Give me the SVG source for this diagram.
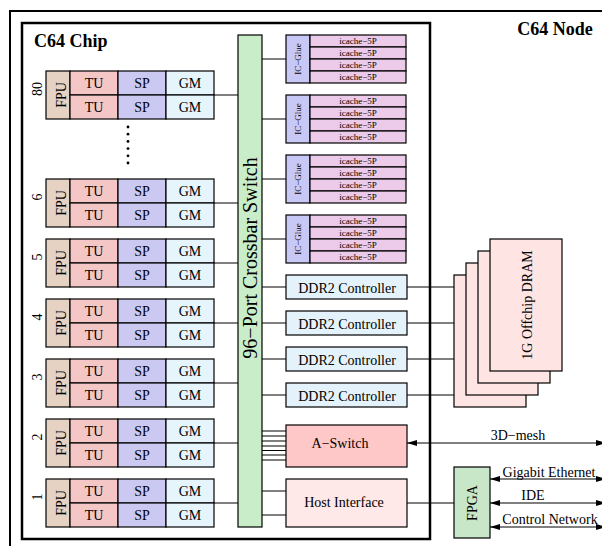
<svg xmlns="http://www.w3.org/2000/svg" width="602" height="546" viewBox="0 0 602 546" font-family="'Liberation Serif','Times New Roman',serif">
<defs>
<style>
text{font-family:"Liberation Serif","Times New Roman",serif;fill:#000}
.b{stroke:#000;stroke-width:1.2}
.fpu{fill:#e6d2c3}.tu{fill:#f4c6c6}.sp{fill:#cbc8f2}.gm{fill:#e6f4fc}
.xb{fill:#c9ecc9}.icg{fill:#c8c8f6}.ic{fill:#ebcbe9}.ddr{fill:#e4f3fb}
.asw{fill:#ffc8c8}.host{fill:#ffe8e8}.dram{fill:#ffe4e4}.fpga{fill:#c8e6c8}
.t14{font-size:14px}.t9{font-size:9px}.t13{font-size:14px}
.c{text-anchor:middle}
.ln{stroke:#000;stroke-width:1.2;fill:none}
</style>
<marker id="ah" viewBox="0 0 10 6" refX="10" refY="3" markerWidth="10" markerHeight="6" markerUnits="userSpaceOnUse" orient="auto-start-reverse">
<path d="M0,0 L10,3 L0,6 z" fill="#000"/>
</marker>
<g id="row" font-family="'Liberation Serif','Times New Roman',serif" font-size="14">
<rect class="b fpu" x="46" y="0" width="24" height="48"/>
<rect class="b tu" x="70" y="0" width="48" height="24"/>
<rect class="b tu" x="70" y="24" width="48" height="24"/>
<rect class="b sp" x="118" y="0" width="48" height="24"/>
<rect class="b sp" x="118" y="24" width="48" height="24"/>
<rect class="b gm" x="166" y="0" width="48" height="24"/>
<rect class="b gm" x="166" y="24" width="48" height="24"/>
<text class="t14" transform="translate(66,24) rotate(-90)" text-anchor="middle">FPU</text>
<text class="t14 c" x="94" y="17" text-anchor="middle">TU</text><text class="t14 c" x="94" y="41" text-anchor="middle">TU</text>
<text class="t14 c" x="142" y="17" text-anchor="middle">SP</text><text class="t14 c" x="142" y="41" text-anchor="middle">SP</text>
<text class="t14 c" x="190" y="17" text-anchor="middle">GM</text><text class="t14 c" x="190" y="41" text-anchor="middle">GM</text>
</g>
<g id="icblk" font-family="'Liberation Serif','Times New Roman',serif" font-size="9">
<rect class="b icg" x="286" y="0" width="24" height="48"/>
<rect class="b ic" x="310" y="0" width="96" height="12"/>
<rect class="b ic" x="310" y="12" width="96" height="12"/>
<rect class="b ic" x="310" y="24" width="96" height="12"/>
<rect class="b ic" x="310" y="36" width="96" height="12"/>
<text class="t9" transform="translate(301,24) rotate(-90)" text-anchor="middle">IC−Glue</text>
<text class="t9 c" x="358" y="9" text-anchor="middle">icache−5P</text>
<text class="t9 c" x="358" y="21" text-anchor="middle">icache−5P</text>
<text class="t9 c" x="358" y="33" text-anchor="middle">icache−5P</text>
<text class="t9 c" x="358" y="45" text-anchor="middle">icache−5P</text>
</g>
</defs>
<rect width="602" height="546" fill="#fff"/>
<g id="node-frame">
<path d="M10,546 V11 H604" fill="none" stroke="#000" stroke-width="2"/>
<text x="555" y="35" font-size="18" font-weight="bold" text-anchor="middle">C64 Node</text>
</g>
<g id="chip">
<rect x="22" y="23" width="408" height="516" fill="none" stroke="#000" stroke-width="2.5"/>
<text x="34" y="47" font-size="18" font-weight="bold">C64 Chip</text>
</g>
<g id="connectors">
<path class="ln" d="M214,95 H238 M214,203 H238 M214,263 H238 M214,323 H238 M214,383 H238 M214,443 H238 M214,503 H238"/>
<path class="ln" d="M262,59 H286 M262,119 H286 M262,179 H286 M262,239 H286"/>
<path class="ln" d="M262,287 H286 M262,323 H286 M262,359 H286 M262,395 H286"/>
<path class="ln" d="M407,287 H454 M407,323 H454 M407,359 H454 M407,395 H454"/>
<path class="ln" d="M262,431 H286 M262,436 H286 M262,441 H286 M262,446 H286 M262,450.5 H286 M262,455 H286 M262,460 H286"/>
<path class="ln" d="M262,491 H286 M262,515 H286"/>
<path class="ln" d="M407,503 H454"/>
<line class="ln" x1="407" y1="443" x2="606" y2="443" marker-start="url(#ah)" marker-end="url(#ah)"/>
<line class="ln" x1="490" y1="479" x2="606" y2="479" marker-start="url(#ah)" marker-end="url(#ah)"/>
<line class="ln" x1="490" y1="503" x2="606" y2="503" marker-start="url(#ah)" marker-end="url(#ah)"/>
<line class="ln" x1="490" y1="527" x2="606" y2="527" marker-start="url(#ah)" marker-end="url(#ah)"/>
<text class="t13 c" x="518" y="440">3D−mesh</text>
<text class="t13 c" x="549" y="477">Gigabit Ethernet</text>
<text class="t13 c" x="533" y="500">IDE</text>
<text class="t13 c" x="550" y="524">Control Network</text>
</g>
<g id="row80"><use href="#row" transform="translate(0,71)"/><text class="t14" transform="translate(42,89) rotate(-90)" text-anchor="middle">80</text></g>
<g id="dots" fill="#000">
<circle cx="128" cy="127" r="1.4"/><circle cx="128" cy="134.2" r="1.4"/><circle cx="128" cy="141.4" r="1.4"/><circle cx="128" cy="148.6" r="1.4"/><circle cx="128" cy="155.8" r="1.4"/><circle cx="128" cy="163" r="1.4"/>
</g>
<g id="row6"><use href="#row" transform="translate(0,179)"/><text class="t14" transform="translate(42,197) rotate(-90)" text-anchor="middle">6</text></g>
<g id="row5"><use href="#row" transform="translate(0,239)"/><text class="t14" transform="translate(42,257) rotate(-90)" text-anchor="middle">5</text></g>
<g id="row4"><use href="#row" transform="translate(0,299)"/><text class="t14" transform="translate(42,317) rotate(-90)" text-anchor="middle">4</text></g>
<g id="row3"><use href="#row" transform="translate(0,359)"/><text class="t14" transform="translate(42,377) rotate(-90)" text-anchor="middle">3</text></g>
<g id="row2"><use href="#row" transform="translate(0,419)"/><text class="t14" transform="translate(42,437) rotate(-90)" text-anchor="middle">2</text></g>
<g id="row1"><use href="#row" transform="translate(0,479)"/><text class="t14" transform="translate(42,497) rotate(-90)" text-anchor="middle">1</text></g>
<g id="crossbar">
<rect class="b xb" x="238" y="35" width="24" height="492"/>
<text font-size="20" transform="translate(257,258) rotate(-90)" text-anchor="middle">96−Port Crossbar Switch</text>
</g>
<g id="icache1"><use href="#icblk" transform="translate(0,35)"/></g>
<g id="icache2"><use href="#icblk" transform="translate(0,95)"/></g>
<g id="icache3"><use href="#icblk" transform="translate(0,155)"/></g>
<g id="icache4"><use href="#icblk" transform="translate(0,215)"/></g>
<g id="ddr1"><rect class="b ddr" x="286" y="275" width="121" height="24"/><text class="t14 c" x="347" y="293">DDR2 Controller</text></g>
<g id="ddr2"><rect class="b ddr" x="286" y="311" width="121" height="24"/><text class="t14 c" x="347" y="329">DDR2 Controller</text></g>
<g id="ddr3"><rect class="b ddr" x="286" y="347" width="121" height="24"/><text class="t14 c" x="347" y="365">DDR2 Controller</text></g>
<g id="ddr4"><rect class="b ddr" x="286" y="383" width="121" height="24"/><text class="t14 c" x="347" y="401">DDR2 Controller</text></g>
<g id="aswitch"><rect class="b asw" x="286" y="425" width="121" height="42"/><text class="t14 c" x="340" y="448">A−Switch</text></g>
<g id="host"><rect class="b host" x="286" y="479" width="121" height="48"/><text class="t14 c" x="344" y="507">Host Interface</text></g>
<g id="dram">
<rect class="b dram" x="454" y="275" width="72" height="132"/>
<rect class="b dram" x="466" y="263" width="72" height="132"/>
<rect class="b dram" x="478" y="251" width="72" height="132"/>
<rect class="b dram" x="490" y="239" width="72" height="132"/>
<text class="t14" transform="translate(532,305) rotate(-90)" text-anchor="middle">1G Offchip DRAM</text>
</g>
<g id="fpga"><rect class="b fpga" x="454" y="467" width="36" height="71"/><text class="t14" transform="translate(477,503) rotate(-90)" text-anchor="middle">FPGA</text></g>
</svg>
